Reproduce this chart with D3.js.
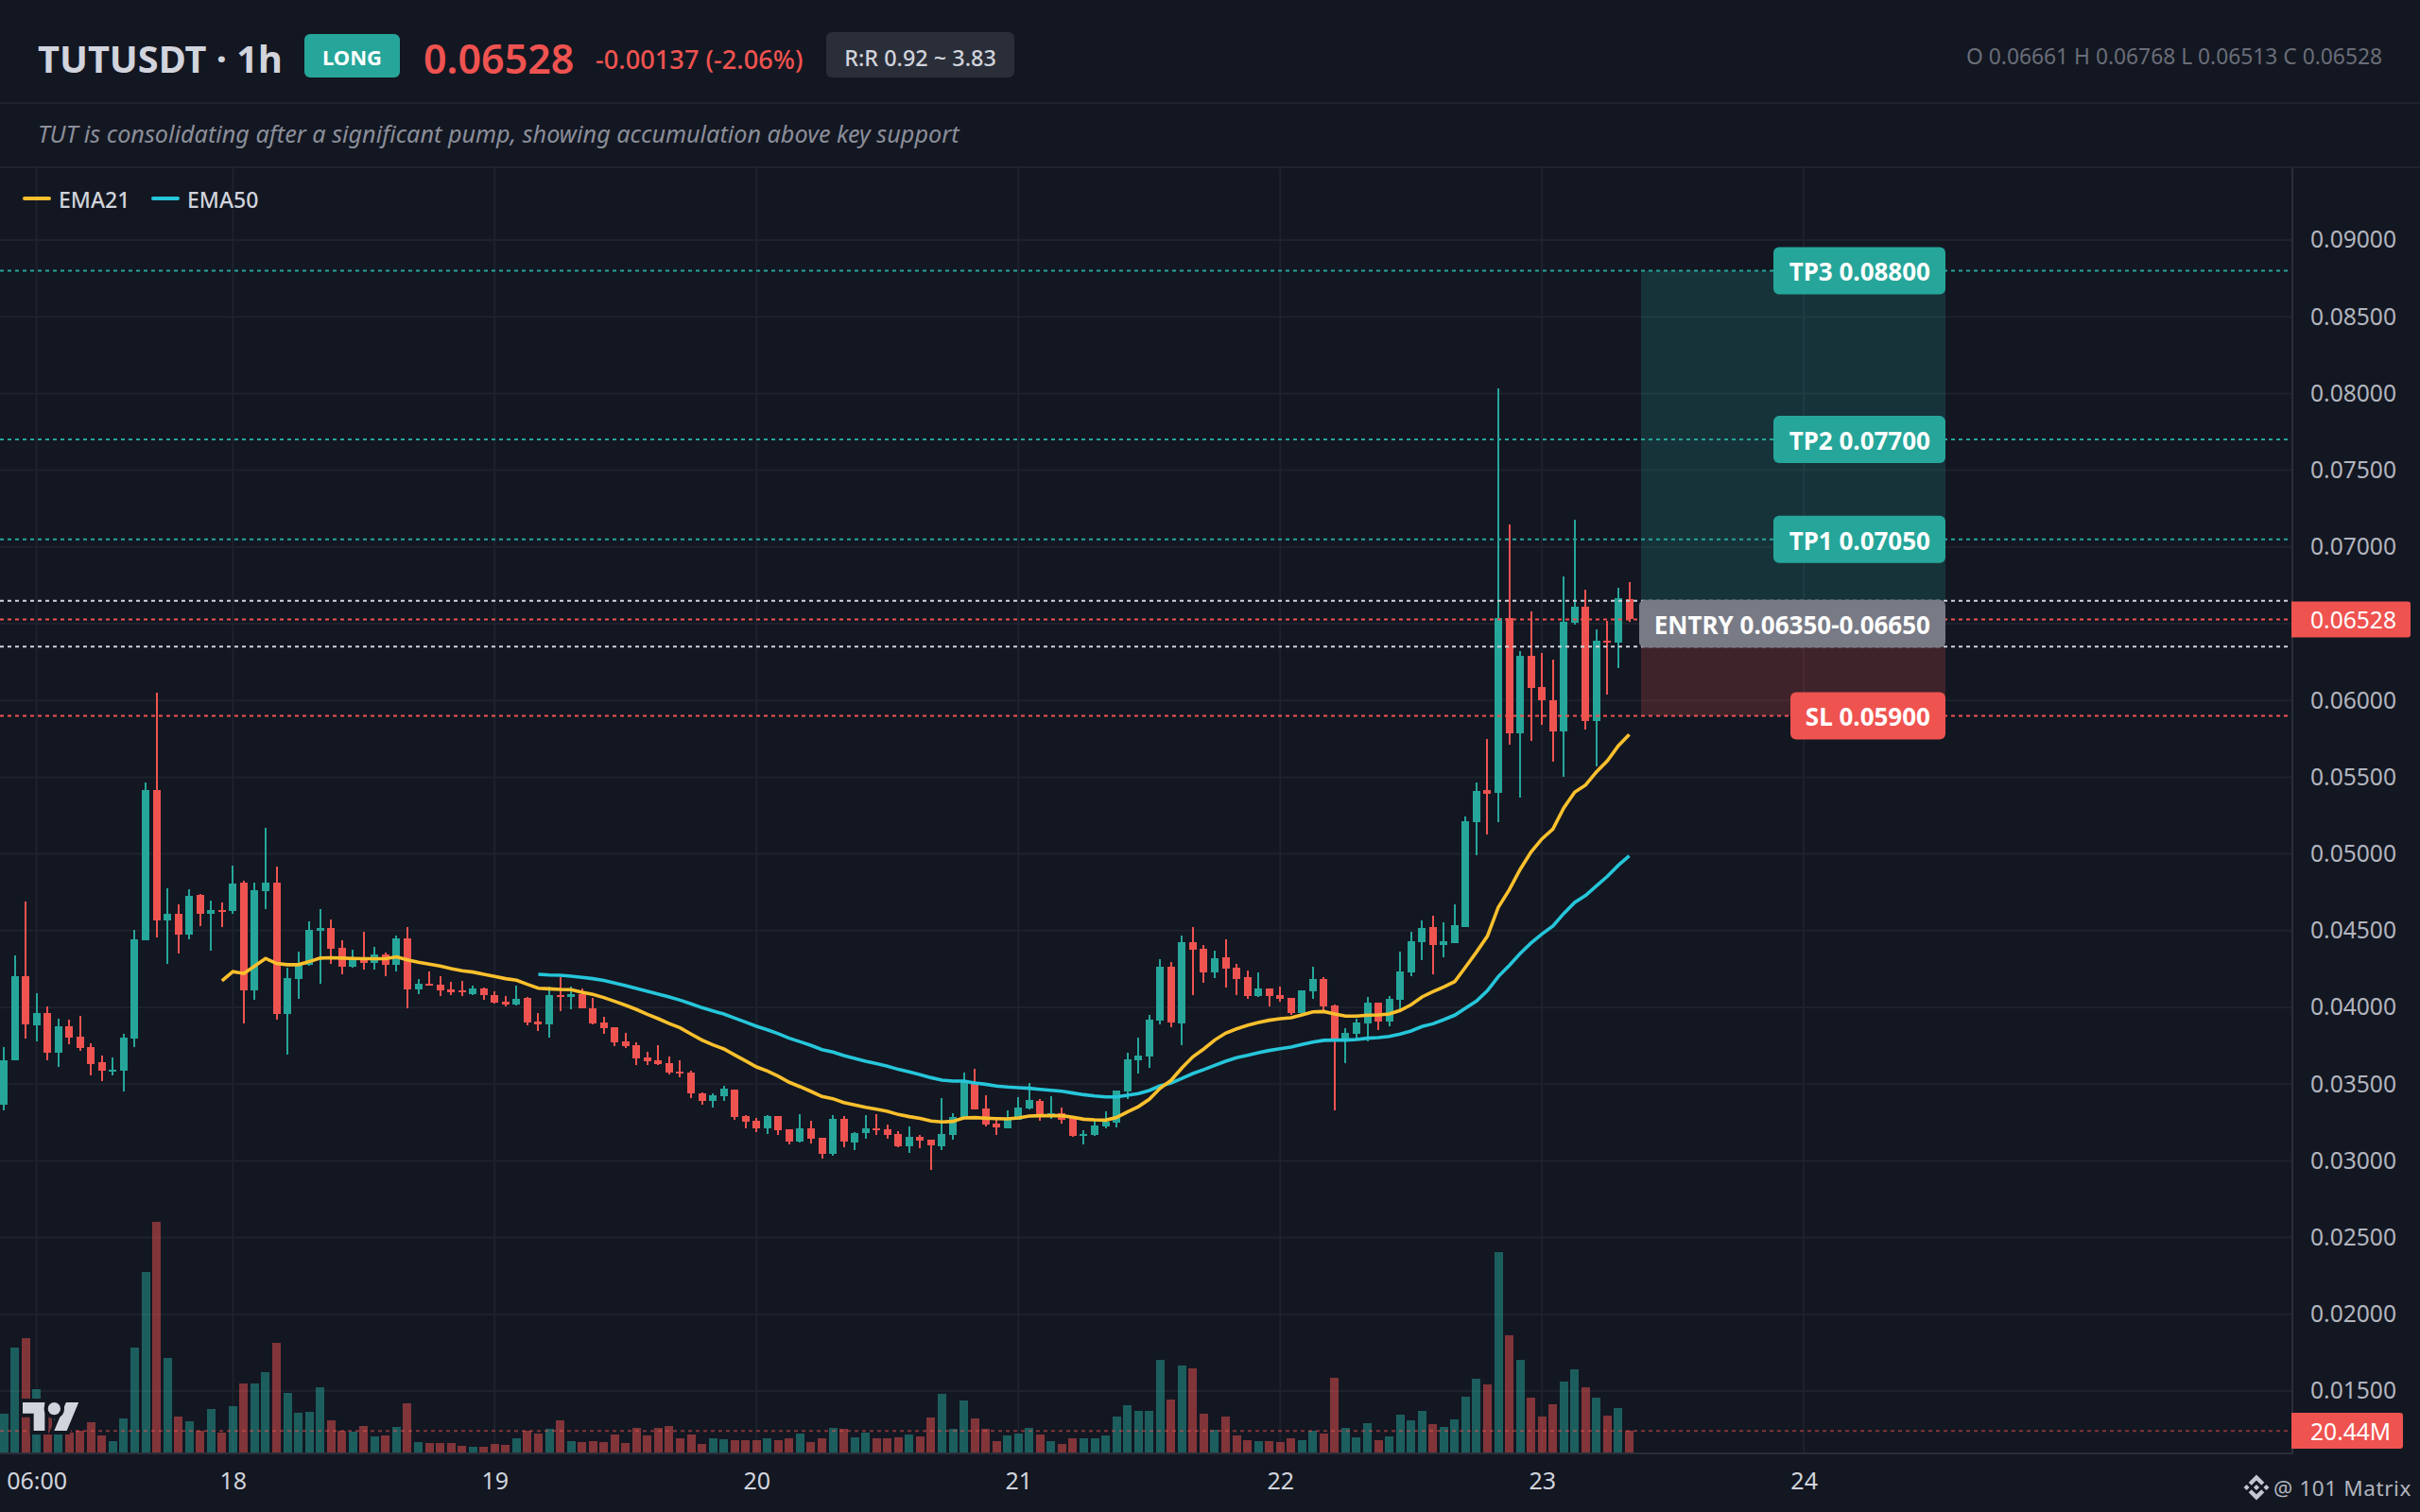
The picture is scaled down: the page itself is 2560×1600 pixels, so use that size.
<!DOCTYPE html>
<html>
<head>
<meta charset="utf-8">
<script src="https://cdn.jsdelivr.net/npm/d3@7"></script>
<style>
  html, body { margin: 0; padding: 0; background: #131722; }
  svg { display: block; }
  text { font-family: "Noto Sans", sans-serif; }
</style>
</head>
<body>
<div id="chart"></div>
<script>
// hourly candles, left to right
var opens = [0.03365,0.03654,0.04202,0.03882,0.03962,0.03703,0.03876,0.03808,0.03740,0.03642,0.03586,0.03586,0.03796,0.04436,0.05415,0.04565,0.04609,0.04473,0.04732,0.04609,0.04635,0.04627,0.04812,0.04110,0.04756,0.04812,0.03956,0.04184,0.04276,0.04498,0.04516,0.04387,0.04264,0.04313,0.04288,0.04344,0.04276,0.04448,0.04116,0.04153,0.04147,0.04116,0.04108,
  0.04086,0.04123,0.04080,0.04037,0.04019,0.04062,0.03908,0.03889,0.04080,0.04068,0.04086,0.03994,0.03902,0.03871,0.03778,0.03754,0.03674,0.03655,0.03637,0.03581,0.03575,0.03440,0.03391,0.03421,0.03464,0.03292,0.03261,0.03212,0.03292,0.03206,0.03126,0.03212,0.03150,0.03046,0.03274,0.03120,0.03181,0.03212,0.03206,0.03175,0.03095,0.03157,0.03138,0.03095,
  0.03169,0.03286,0.03514,0.03341,0.03243,0.03212,0.03267,0.03341,0.03391,0.03298,0.03310,0.03280,0.03163,0.03169,0.03224,0.03249,0.03452,0.03655,0.03680,0.03914,0.04265,0.03895,0.04425,0.04382,0.04228,0.04326,0.04259,0.04197,0.04074,0.04123,0.04080,0.04062,0.03963,0.04105,0.04185,0.04012,0.03791,0.03828,0.03895,0.04031,0.03908,0.04049,0.04228,
  0.04425,0.04523,0.04407,0.04419,0.04523,0.05207,0.05416,0.05398,0.06537,0.05786,0.06291,0.06087,0.06001,0.05798,0.06506,0.06611,0.05866,0.06389,0.06377,0.06661];
var highs = [0.03740,0.04338,0.04689,0.04091,0.04005,0.03925,0.03919,0.03944,0.03765,0.03685,0.03673,0.03827,0.04504,0.05464,0.06049,0.04775,0.04670,0.04769,0.04738,0.04695,0.04682,0.04923,0.04824,0.04812,0.05169,0.04916,0.04258,0.04362,0.04559,0.04639,0.04572,0.04436,0.04375,0.04492,0.04393,0.04356,0.04467,0.04522,0.04184,0.04233,0.04202,0.04165,0.04171,
  0.04140,0.04129,0.04105,0.04074,0.04142,0.04068,0.03963,0.04136,0.04197,0.04136,0.04123,0.04062,0.03939,0.03871,0.03834,0.03772,0.03711,0.03754,0.03680,0.03655,0.03588,0.03446,0.03440,0.03489,0.03464,0.03298,0.03280,0.03298,0.03292,0.03206,0.03304,0.03261,0.03150,0.03298,0.03292,0.03187,0.03298,0.03304,0.03237,0.03193,0.03224,0.03169,0.03138,0.03409,
  0.03310,0.03575,0.03600,0.03427,0.03267,0.03329,0.03415,0.03507,0.03403,0.03421,0.03347,0.03280,0.03200,0.03261,0.03323,0.03458,0.03704,0.03803,0.03951,0.04314,0.04296,0.04468,0.04523,0.04406,0.04369,0.04443,0.04283,0.04240,0.04228,0.04123,0.04136,0.04062,0.04111,0.04265,0.04197,0.04019,0.03865,0.03926,0.04068,0.04031,0.04074,0.04363,0.04492,
  0.04567,0.04597,0.04554,0.04671,0.05244,0.05466,0.05749,0.08033,0.07147,0.06321,0.06580,0.06309,0.06266,0.06808,0.07177,0.06722,0.06463,0.06518,0.06734,0.06768];
var lows = [0.03328,0.03654,0.03796,0.03777,0.03654,0.03611,0.03759,0.03716,0.03556,0.03519,0.03556,0.03451,0.03740,0.04436,0.04455,0.04282,0.04350,0.04442,0.04528,0.04368,0.04522,0.04609,0.03894,0.04048,0.04639,0.03919,0.03691,0.04054,0.04270,0.04153,0.04282,0.04214,0.04258,0.04245,0.04245,0.04202,0.04233,0.03993,0.04085,0.04141,0.04073,0.04079,0.04073,
  0.04078,0.04049,0.04025,0.04006,0.04012,0.03883,0.03846,0.03803,0.03975,0.03988,0.03994,0.03889,0.03828,0.03748,0.03735,0.03624,0.03624,0.03624,0.03563,0.03544,0.03409,0.03366,0.03347,0.03391,0.03267,0.03212,0.03187,0.03175,0.03169,0.03107,0.03120,0.03113,0.03015,0.03033,0.03089,0.03070,0.03144,0.03169,0.03144,0.03089,0.03052,0.03083,0.02941,0.03070,
  0.03138,0.03286,0.03335,0.03224,0.03169,0.03212,0.03267,0.03335,0.03261,0.03273,0.03243,0.03157,0.03107,0.03163,0.03212,0.03218,0.03403,0.03569,0.03606,0.03889,0.03871,0.03754,0.04080,0.04160,0.04191,0.04129,0.04080,0.04055,0.04068,0.04006,0.04037,0.03951,0.03951,0.04055,0.03975,0.03329,0.03637,0.03791,0.03778,0.03852,0.03877,0.03988,0.04203,
  0.04308,0.04216,0.04326,0.04419,0.04523,0.04991,0.05127,0.05207,0.05712,0.05367,0.05737,0.05841,0.05601,0.05502,0.06494,0.05810,0.05570,0.06038,0.06211,0.06513];
var closes = [0.03654,0.04202,0.03888,0.03962,0.03703,0.03876,0.03802,0.03734,0.03630,0.03586,0.03594,0.03802,0.04442,0.05415,0.04565,0.04609,0.04473,0.04726,0.04609,0.04633,0.04625,0.04806,0.04110,0.04763,0.04812,0.03956,0.04190,0.04276,0.04504,0.04516,0.04381,0.04264,0.04313,0.04288,0.04344,0.04276,0.04448,0.04116,0.04153,0.04141,0.04110,0.04097,0.04097,
  0.04123,0.04080,0.04031,0.04019,0.04055,0.03902,0.03889,0.04080,0.04068,0.04086,0.03994,0.03895,0.03865,0.03772,0.03748,0.03668,0.03649,0.03631,0.03575,0.03569,0.03440,0.03391,0.03427,0.03471,0.03286,0.03255,0.03212,0.03292,0.03200,0.03126,0.03212,0.03144,0.03046,0.03274,0.03126,0.03181,0.03212,0.03200,0.03169,0.03095,0.03157,0.03132,0.03101,0.03175,
  0.03286,0.03520,0.03335,0.03236,0.03218,0.03267,0.03347,0.03397,0.03292,0.03310,0.03267,0.03163,0.03175,0.03230,0.03255,0.03458,0.03661,0.03686,0.03920,0.04265,0.03901,0.04425,0.04376,0.04228,0.04320,0.04252,0.04185,0.04074,0.04123,0.04074,0.04055,0.03963,0.04111,0.04185,0.04006,0.03791,0.03834,0.03901,0.04031,0.03908,0.04055,0.04234,0.04431,
  0.04517,0.04407,0.04431,0.04536,0.05213,0.05410,0.05392,0.06537,0.05786,0.06291,0.06081,0.06001,0.05798,0.06512,0.06611,0.05866,0.06389,0.06377,0.06666,0.06528];
// volume in millions
var volumes = [36.6,99.6,108.6,60,39,33,18.6,20.4,28.5,15.9,10.5,32.1,99.6,171.6,219.3,89.7,33.9,29.4,20.4,41.1,18.6,43.8,65.4,65.4,76.2,104.1,56.4,37.5,38.4,61.8,30.3,20.4,19.5,24.9,15,15.9,24,46.5,9.6,8.7,8.7,8.7,6,5.1,5.1,7.8,6.9,13.2,20.4,17.7,22.2,30.3,10.5,9.6,10.5,9.6,16.8,8.7,23.1,15.9,23.1,24.9,13.2,16.8,7.8,13.2,12.3,11.4,11.4,11.4,13.2,11.4,13.2,17.7,9.6,
  13.2,23.1,22.2,14.1,18.6,13.2,13.2,14.1,16.8,15,33,55.5,22.2,49.2,32.1,22.2,10.5,15.9,17.7,23.1,16.8,10.5,7.8,13.2,13.2,13.2,15.9,33.9,44.7,39.3,39.3,87.9,50.1,82.5,79.8,36.6,21.3,33.9,15.9,11.4,10.5,10.5,9.6,13.2,11.4,20.4,17.7,70.8,23.1,14.1,27.6,11.4,15,35.7,30.3,39.3,26.7,24,31.2,52.8,69.9,64.5,190.5,111.3,87.9,51.9,33.9,45.6,67.2,78.9,61.8,51.9,34.8,42,20.44];

var ema21Start = 20;
var ema21 = [0.04173,0.04233,0.04221,0.04270,0.04319,0.04286,0.04278,0.04278,0.04298,0.04321,0.04323,0.04321,0.04319,0.04317,0.04317,0.04317,0.04329,0.04309,0.04294,0.04282,0.04270,0.04253,0.04239,
  0.04230,0.04216,0.04201,0.04187,0.04177,0.04150,0.04125,0.04121,0.04117,0.04115,0.04099,0.04084,0.04064,0.04039,0.04014,0.03986,0.03955,0.03926,0.03895,0.03867,0.03826,0.03787,0.03756,0.03729,0.03690,0.03651,0.03612,0.03585,0.03551,0.03512,0.03483,0.03452,0.03419,0.03405,0.03380,0.03364,0.03349,0.03337,0.03323,0.03302,0.03288,0.03276,0.03259,0.03253,
  0.03257,0.03280,0.03282,0.03278,0.03275,0.03273,0.03280,0.03292,0.03294,0.03294,0.03294,0.03284,0.03271,0.03267,0.03265,0.03282,0.03319,0.03353,0.03401,0.03473,0.03524,0.03606,0.03678,0.03729,0.03787,0.03832,0.03860,0.03883,0.03901,0.03916,0.03926,0.03932,0.03951,0.03971,0.03973,0.03957,0.03943,0.03943,0.03949,0.03951,0.03957,0.03980,0.04017,
  0.04068,0.04103,0.04133,0.04168,0.04263,0.04361,0.04464,0.04653,0.04766,0.04899,0.05012,0.05098,0.05162,0.05299,0.05402,0.05449,0.05535,0.05607,0.05704,0.05778];
var ema50Start = 49;
var ema50 = [0.04216,0.04211,0.04209,0.04203,0.04195,0.04187,0.04175,0.04158,0.04142,0.04123,0.04105,0.04086,0.04068,0.04047,0.04023,0.03998,0.03977,0.03957,0.03930,0.03904,0.03877,0.03854,0.03828,0.03799,0.03776,0.03752,0.03725,0.03709,0.03686,0.03668,0.03649,0.03633,0.03616,0.03596,0.03579,0.03561,0.03542,0.03526,
  0.03520,0.03520,0.03507,0.03499,0.03487,0.03481,0.03477,0.03473,0.03466,0.03460,0.03454,0.03442,0.03431,0.03423,0.03417,0.03417,0.03427,0.03438,0.03458,0.03489,0.03507,0.03538,0.03569,0.03594,0.03622,0.03649,0.03672,0.03688,0.03704,0.03719,0.03731,0.03741,0.03758,0.03774,0.03785,0.03787,0.03787,0.03791,0.03799,0.03803,0.03811,0.03826,0.03846,
  0.03875,0.03893,0.03920,0.03949,0.03996,0.04041,0.04109,0.04201,0.04273,0.04351,0.04419,0.04478,0.04530,0.04612,0.04684,0.04729,0.04792,0.04854,0.04926,0.04987];

var priceTicks = [0.015,0.02,0.025,0.03,0.035,0.04,0.045,0.05,0.055,0.06,0.065,0.07,0.075,0.08,0.085,0.09];
var timeTickIdx = [3,21,45,69,93,117,141,165];
var timeTickLabels = ["06:00","18","19","20","21","22","23","24"];

var tpPrices = [0.088,0.077,0.0705];
var tpNames = ["TP3 0.08800","TP2 0.07700","TP1 0.07050"];
var entryLow = 0.0635, entryHigh = 0.0665, stopLoss = 0.059, lastPrice = 0.06528, lastVolume = 20.44;

var UP = "#26a69a", DOWN = "#ef5350", BG = "#131722", GRID = "#1e222d", BORDER = "#2a2e39";
var plotRight = 2424, plotTop = 178, plotBottom = 1538;

var svg = d3.select("#chart").append("svg").attr("width", 2560).attr("height", 1600);

var x = d3.scaleLinear().domain([0, 149]).range([4, 1723.5]);
var y = d3.scaleLinear().domain([0.09, 0.015]).range([254, 1472]);
var yVol = d3.scaleLinear().domain([0, 225]).range([1537, 1287]);

svg.append("rect").attr("width", 2560).attr("height", 1600).attr("fill", BG);

// header
svg.append("line").attr("x1", 0).attr("x2", 2560).attr("y1", 109).attr("y2", 109).attr("stroke", GRID).attr("stroke-width", 2);
svg.append("line").attr("x1", 0).attr("x2", 2560).attr("y1", 177).attr("y2", 177).attr("stroke", GRID).attr("stroke-width", 2);

function label(t, px, py, size, color, weight, anchor) {
  return svg.append("text").text(t).attr("x", px).attr("y", py).attr("font-size", size)
    .attr("fill", color).attr("font-weight", weight || 400).attr("text-anchor", anchor || "start")
    .attr("dominant-baseline", "central");
}

label("TUTUSDT · 1h", 40, 62, 39.7, "#d1d4dc", 700);
svg.append("rect").attr("x", 322).attr("y", 36).attr("width", 101).attr("height", 46).attr("rx", 6).attr("fill", UP);
label("LONG", 372.5, 60, 22, "#ffffff", 700, "middle");
label("0.06528", 448, 61, 43, DOWN, 600);
label("-0.00137 (-2.06%)", 630, 62, 27.2, DOWN, 500);
svg.append("rect").attr("x", 874).attr("y", 34).attr("width", 199).attr("height", 48).attr("rx", 6).attr("fill", BORDER);
label("R:R 0.92 ~ 3.83", 973.5, 61, 23.4, "#d1d4dc", 500, "middle");
label("O 0.06661  H 0.06768  L 0.06513  C 0.06528", 2520, 59, 22.8, "#6a6d78", 400, "end");
label("TUT is consolidating after a significant pump, showing accumulation above key support", 40, 141, 25.2, "#8b8e99", 400).attr("font-style", "italic");

// plot clip
svg.append("clipPath").attr("id", "plot").append("rect").attr("x", 0).attr("y", plotTop).attr("width", plotRight).attr("height", plotBottom - plotTop);
var plot = svg.append("g").attr("clip-path", "url(#plot)");

// grid
plot.append("g").selectAll("line").data(priceTicks).enter().append("line")
  .attr("x1", 0).attr("x2", plotRight)
  .attr("y1", function(d) { return y(d); }).attr("y2", function(d) { return y(d); })
  .attr("stroke", GRID).attr("stroke-width", 2);
plot.append("g").selectAll("line").data(timeTickIdx).enter().append("line")
  .attr("y1", plotTop).attr("y2", plotBottom)
  .attr("x1", function(d) { return x(d); }).attr("x2", function(d) { return x(d); })
  .attr("stroke", GRID).attr("stroke-width", 2);

// risk / reward zones
var zoneLeft = 1736, zoneRight = 2058;
plot.append("rect").attr("x", zoneLeft).attr("width", zoneRight - zoneLeft)
  .attr("y", y(tpPrices[0])).attr("height", y(entryHigh) - y(tpPrices[0]))
  .attr("fill", UP).attr("opacity", 0.2);
plot.append("rect").attr("x", zoneLeft).attr("width", zoneRight - zoneLeft)
  .attr("y", y(entryLow)).attr("height", y(stopLoss) - y(entryLow))
  .attr("fill", DOWN).attr("opacity", 0.2);

// volume
plot.append("g").selectAll("rect").data(volumes).enter().append("rect")
  .attr("x", function(d, i) { return x(i) - 4.5; })
  .attr("width", 9)
  .attr("y", function(d) { return yVol(d); })
  .attr("height", function(d) { return yVol(0) - yVol(d); })
  .attr("fill", function(d, i) { return closes[i] >= opens[i] ? UP : DOWN; })
  .attr("opacity", 0.5)
  .attr("shape-rendering", "crispEdges");

// candles
var candles = plot.append("g").selectAll("g").data(opens).enter().append("g")
  .attr("fill", function(d, i) { return closes[i] >= opens[i] ? UP : DOWN; })
  .attr("shape-rendering", "crispEdges");
candles.append("rect")
  .attr("x", function(d, i) { return x(i) - 1; })
  .attr("width", 2)
  .attr("y", function(d, i) { return y(highs[i]); })
  .attr("height", function(d, i) { return y(lows[i]) - y(highs[i]); });
candles.append("rect")
  .attr("x", function(d, i) { return x(i) - 4; })
  .attr("width", 8)
  .attr("y", function(d, i) { return y(Math.max(opens[i], closes[i])); })
  .attr("height", function(d, i) { return Math.max(2, Math.abs(y(opens[i]) - y(closes[i]))); });

// moving averages
var ema21Line = d3.line().x(function(d, i) { return x(i + ema21Start); }).y(function(d) { return y(d); });
var ema50Line = d3.line().x(function(d, i) { return x(i + ema50Start); }).y(function(d) { return y(d); });
plot.append("path").attr("d", ema50Line(ema50)).attr("fill", "none").attr("stroke", "#26c6da").attr("stroke-width", 3.6);
plot.append("path").attr("d", ema21Line(ema21)).attr("fill", "none").attr("stroke", "#fbc02d").attr("stroke-width", 3.6);

// level lines
function level(p, color, op) {
  plot.append("line").attr("x1", 0).attr("x2", 2420).attr("y1", y(p)).attr("y2", y(p))
    .attr("stroke", color).attr("stroke-width", 2).attr("stroke-dasharray", "4 4").attr("opacity", op || 1);
}
tpPrices.forEach(function(p) { level(p, UP); });
level(entryHigh, "#d1d4dc");
level(entryLow, "#d1d4dc");
level(lastPrice, DOWN);
level(stopLoss, DOWN);
plot.append("line").attr("x1", 0).attr("x2", 2420).attr("y1", yVol(lastVolume)).attr("y2", yVol(lastVolume))
  .attr("stroke", DOWN).attr("stroke-width", 2).attr("stroke-dasharray", "4 4").attr("opacity", 0.5);

// level tags
function tag(left, top, h, fill, t) {
  svg.append("rect").attr("x", left).attr("y", top).attr("width", zoneRight - left).attr("height", h).attr("rx", 6).attr("fill", fill);
  label(t, zoneRight - 16, top + h / 2 + 1, 26, "#ffffff", 700, "end");
}
tpPrices.forEach(function(p, i) { tag(1876, y(p) - 25, 50, UP, tpNames[i]); });
tag(1734, y(entryHigh) - 1, y(entryLow) - y(entryHigh) + 2, "#787b86", "ENTRY 0.06350-0.06650");
tag(1894, y(stopLoss) - 25, 50, DOWN, "SL 0.05900");

// legend
svg.append("line").attr("x1", 26).attr("x2", 52).attr("y1", 210).attr("y2", 210).attr("stroke", "#fbc02d").attr("stroke-width", 4).attr("stroke-linecap", "round");
label("EMA21", 62, 211, 23, "#d1d4dc", 500);
svg.append("line").attr("x1", 162).attr("x2", 188).attr("y1", 210).attr("y2", 210).attr("stroke", "#26c6da").attr("stroke-width", 4).attr("stroke-linecap", "round");
label("EMA50", 198, 211, 23, "#d1d4dc", 500);

// tradingview mark
svg.append("path").attr("transform", "translate(24,1477.3) scale(1.667)")
  .attr("d", "M14 22H7V11H0V4h14v18zM28 22h-8l7.5-18h8L28 22z")
  .attr("fill", "#d1d4dc").attr("stroke", BG).attr("stroke-width", 4.8).attr("paint-order", "stroke");
svg.append("circle").attr("transform", "translate(24,1477.3) scale(1.667)")
  .attr("cx", 20).attr("cy", 8).attr("r", 4)
  .attr("fill", "#d1d4dc").attr("stroke", BG).attr("stroke-width", 4.8).attr("paint-order", "stroke");

// axes frame
svg.append("line").attr("x1", plotRight + 1).attr("x2", plotRight + 1).attr("y1", plotTop).attr("y2", plotBottom + 1).attr("stroke", BORDER).attr("stroke-width", 2);
svg.append("line").attr("x1", 0).attr("x2", plotRight + 2).attr("y1", plotBottom).attr("y2", plotBottom).attr("stroke", BORDER).attr("stroke-width", 2);

var yAxis = d3.axisRight(y).tickValues(priceTicks).tickFormat(d3.format(".5f")).tickSize(0).tickPadding(19);
var gy = svg.append("g").attr("transform", "translate(" + (plotRight + 1) + ",0)").call(yAxis);
gy.select(".domain").remove();
gy.selectAll("text").attr("font-size", 24.6).attr("fill", "#b2b5be").style("font-family", '"Noto Sans", sans-serif');

var xAxis = d3.axisBottom(x).tickValues(timeTickIdx).tickFormat(function(d, i) { return timeTickLabels[i]; }).tickSize(0).tickPadding(0);
var gx = svg.append("g").attr("transform", "translate(0,1567)").call(xAxis);
gx.select(".domain").remove();
gx.selectAll("text").attr("font-size", 25).attr("fill", "#d1d4dc").attr("y", 0).attr("dy", "0.35em").style("font-family", '"Noto Sans", sans-serif');

// price and volume tags on the scale
svg.append("path").attr("fill", DOWN)
  .attr("d", "M2424 " + (y(lastPrice) - 19) + "H2547a3 3 0 0 1 3 3V" + (y(lastPrice) + 16) + "a3 3 0 0 1 -3 3H2424Z");
label("0.06528", 2444, y(lastPrice), 24.6, "#ffffff", 400);
svg.append("path").attr("fill", DOWN)
  .attr("d", "M2424 1495H2539a3 3 0 0 1 3 3V1530a3 3 0 0 1 -3 3H2424Z");
label("20.44M", 2444, 1514, 24.6, "#ffffff", 400);

// watermark
svg.append("path").attr("transform", "translate(2373.5,1560.5) scale(0.213)").attr("fill", "#c4c7d0")
  .attr("d", "M38.73 53.2l24.59-24.58 24.6 24.6 14.3-14.31L63.32 0 24.42 38.9zM0 63.31l14.3-14.31 14.31 14.31-14.31 14.3zM38.73 73.41l24.59 24.59 24.6-24.6 14.31 14.29-38.9 38.91-38.91-38.88v-.02zM98 63.31l14.3-14.31 14.31 14.3-14.31 14.32zM77.83 63.3L63.32 48.78 52.59 59.51l-1.24 1.23-2.54 2.54 14.51 14.5 14.51-14.47z");
label("@ 101 Matrix", 2551, 1574, 22.5, "#b2b5be", 400, "end").attr("letter-spacing", 0.6);
</script>
</body>
</html>
